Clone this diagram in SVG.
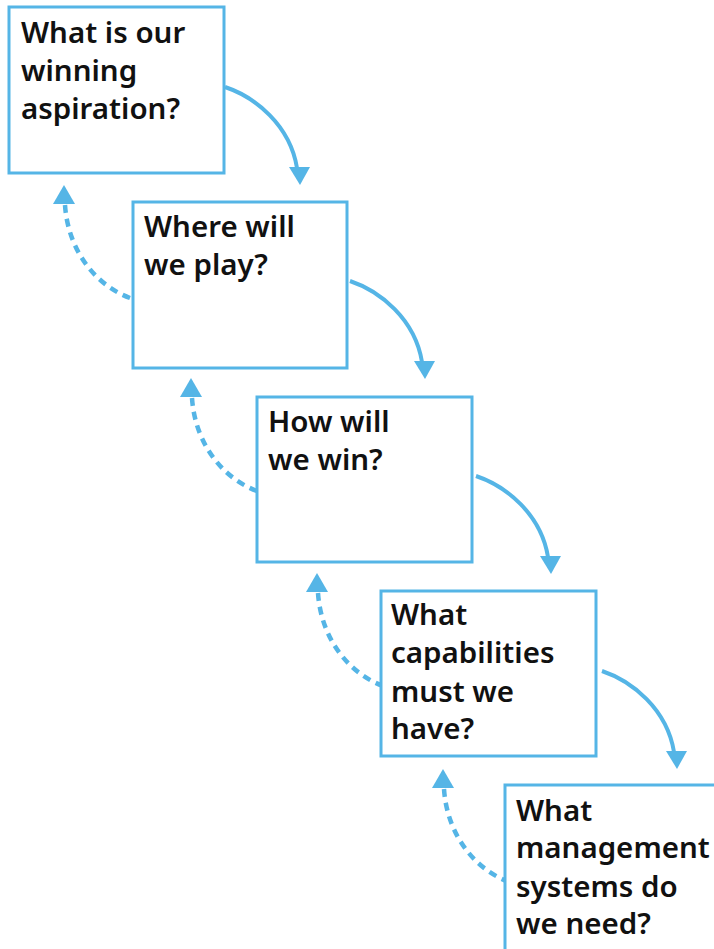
<svg xmlns="http://www.w3.org/2000/svg" xmlns:xlink="http://www.w3.org/1999/xlink" width="714" height="949" viewBox="0 0 714 949">
<style>
.box{fill:#fff;stroke:#55b5e6;stroke-width:3}
.lbl{font-family:"Noto Sans","Liberation Sans",sans-serif;font-weight:600;font-size:29.5px;fill:#111}
.solid{fill:none;stroke:#55b5e6;stroke-width:4}
.dash{fill:none;stroke:#55b5e6;stroke-width:4.5;stroke-dasharray:8 6}
.head{fill:#55b5e6}
</style>
<defs>
<polygon id="hd" class="head" points="-11,-18 10,-18 0,0"/>
<polygon id="hu" class="head" points="-11,19 11,19 0,0"/>
<g id="solidArrow"><path class="solid" d="M225,87 C255,97 290,125 297,168"/><use xlink:href="#hd" href="#hd" x="300" y="185"/></g>
<g id="dashArrow"><path class="dash" d="M130,298 C95,285 68,250 65,205"/><use xlink:href="#hu" href="#hu" x="64" y="185"/></g>
</defs>
<g id="connectors">
<use href="#solidArrow" xlink:href="#solidArrow"/>
<use href="#solidArrow" xlink:href="#solidArrow" transform="translate(125,194)"/>
<use href="#solidArrow" xlink:href="#solidArrow" transform="translate(251,389)"/>
<use href="#solidArrow" xlink:href="#solidArrow" transform="translate(377,584)"/>
<use href="#dashArrow" xlink:href="#dashArrow"/>
<use href="#dashArrow" xlink:href="#dashArrow" transform="translate(127,193)"/>
<use href="#dashArrow" xlink:href="#dashArrow" transform="translate(253,388)"/>
<use href="#dashArrow" xlink:href="#dashArrow" transform="translate(379,584)"/>
</g>
<g id="node1"><rect class="box" x="9" y="7" width="215" height="166"/>
<text class="lbl"><tspan x="21" y="43">What is our</tspan><tspan x="21" y="81">winning</tspan><tspan x="21" y="119">aspiration?</tspan></text></g>
<g id="node2"><rect class="box" x="133" y="202" width="214" height="166"/>
<text class="lbl"><tspan x="144" y="237">Where will</tspan><tspan x="144" y="275">we play?</tspan></text></g>
<g id="node3"><rect class="box" x="257" y="397" width="215" height="165"/>
<text class="lbl"><tspan x="268" y="432">How will</tspan><tspan x="268" y="470">we win?</tspan></text></g>
<g id="node4"><rect class="box" x="381" y="591" width="215" height="165"/>
<text class="lbl"><tspan x="391" y="625">What</tspan><tspan x="391" y="663">capabilities</tspan><tspan x="391" y="702">must we</tspan><tspan x="391" y="739">have?</tspan></text></g>
<g id="node5"><rect class="box" x="505" y="785" width="216" height="170"/>
<text class="lbl"><tspan x="516" y="821">What</tspan><tspan x="516" y="858">management</tspan><tspan x="516" y="897">systems do</tspan><tspan x="516" y="934">we need?</tspan></text></g>
</svg>
